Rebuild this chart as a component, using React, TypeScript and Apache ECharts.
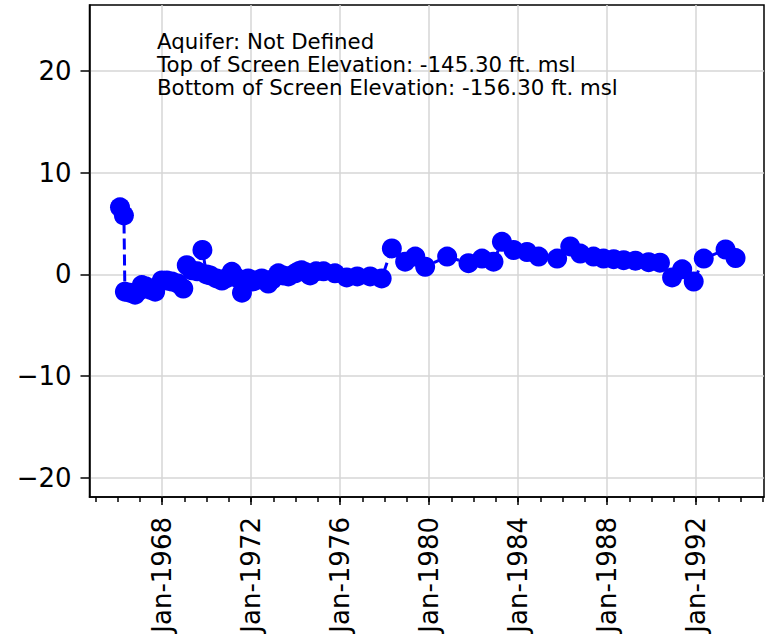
import React, { useEffect, useRef } from "react";
import * as echarts from "echarts";

// Observation dates and water-level values (ft)
const dates: string[] = [
  "1966-02-10", "1966-04-15", "1966-05-01", "1966-07-20", "1966-10-15", "1966-12-20",
  "1967-02-03", "1967-04-15", "1967-06-18", "1967-09-10", "1967-12-28", "1968-03-20",
  "1968-06-10", "1968-09-20", "1968-12-15", "1969-02-10", "1969-05-05", "1969-08-01",
  "1969-10-25", "1970-01-01", "1970-03-01", "1970-06-15", "1970-09-10", "1970-11-15",
  "1971-02-20", "1971-05-01", "1971-08-05", "1971-11-15", "1972-01-20", "1972-03-05",
  "1972-06-25", "1972-08-20", "1972-10-10", "1972-12-15", "1973-03-25", "1973-06-10",
  "1973-09-05", "1973-12-25", "1974-02-20", "1974-04-10", "1974-06-20", "1974-08-28",
  "1974-12-05", "1975-04-05", "1975-10-10", "1976-04-20", "1976-10-10", "1977-05-10",
  "1977-11-15", "1978-05-01", "1978-12-05", "1979-05-20", "1979-10-30", "1980-10-25",
  "1981-10-10", "1982-05-20", "1982-11-25", "1983-04-12", "1983-10-20", "1984-05-28",
  "1984-12-05", "1985-10-05", "1986-05-08", "1986-10-20", "1987-05-25", "1987-11-05",
  "1988-04-20", "1988-10-01", "1989-04-12", "1989-11-15", "1990-05-20", "1990-12-05",
  "1991-05-20", "1991-11-25", "1992-05-08", "1993-05-01", "1993-10-12",
];
const levels: number[] = [
  6.6, 5.8, -1.7, -1.8, -2.0, -1.6,
  -1.05, -1.2, -1.5, -1.7, -0.6, -0.6,
  -0.7, -0.9, -1.4, 0.9, 0.4, 0.3,
  2.4, 0.0, -0.1, -0.4, -0.6, -0.4,
  0.25, -0.3, -1.8, -0.4, -0.7, -0.6,
  -0.4, -0.6, -0.9, -0.5, 0.1, -0.1,
  -0.2, 0.1, 0.3, 0.4, 0.2, -0.1,
  0.3, 0.3, 0.1, -0.3, -0.2, -0.2,
  -0.4, 2.55, 1.25, 1.75, 0.75, 1.75,
  1.1, 1.55, 1.25, 3.2, 2.4, 2.2,
  1.75, 1.55, 2.75, 2.05, 1.75, 1.55,
  1.5, 1.4, 1.35, 1.2, 1.15, -0.3,
  0.5, -0.7, 1.55, 2.45, 1.6,
];
const majorYears: number[] = [1968, 1972, 1976, 1980, 1984, 1988, 1992];
const minorYears: number[] = [
  1965, 1966, 1967, 1968, 1969, 1970, 1971, 1972, 1973, 1974, 1975, 1976, 1977, 1978,
  1979, 1980, 1981, 1982, 1983, 1984, 1985, 1986, 1987, 1988, 1989, 1990, 1991, 1992,
  1993, 1994, 1995,
];
const yTicks: number[] = [-20, -10, 0, 10, 20];
const annotationLines: string[] = [
  "Aquifer: Not Defined",
  "Top of Screen Elevation: -145.30 ft. msl",
  "Bottom of Screen Elevation: -156.30 ft. msl",
];
const xMinDate = "1964-09-27";
const xMaxDate = "1995-01-22";
const yMin = -21.9;
const yMax = 26.5;

const FONT = "DejaVu Sans";

export default function App() {
  const ref = useRef<HTMLDivElement>(null);
  useEffect(() => {
    if (!ref.current) return;
    const chart = echarts.init(ref.current, null, { renderer: "svg" });
    const ts = (s: string) => {
      const [y, m, d] = s.split("-").map(Number);
      return Date.UTC(y, m - 1, d);
    };
    const jan = (y: number) => Date.UTC(y, 0, 1);
    const xMin = ts(xMinDate);
    const xMax = ts(xMaxDate);
    const data = dates.map((d, i) => [ts(d), levels[i]]);
    const tickStyle = { color: "#000", width: 1.5 };
    chart.setOption({
      animation: false,
      backgroundColor: "#fff",
      grid: {
        left: 89.5,
        right: 2,
        top: 5,
        bottom: 142,
        show: true,
        borderColor: "#000",
        borderWidth: 1.5,
        containLabel: false,
        outerBoundsMode: "none",
      },
      xAxis: [
        {
          type: "value",
          min: xMin,
          max: xMax,
          position: "bottom",
          axisLine: { show: true, onZero: false, lineStyle: { color: "#000", width: 1.5 } },
          axisTick: {
            show: true,
            length: 8,
            lineStyle: tickStyle,
            customValues: majorYears.map(jan),
          },
          axisLabel: {
            show: true,
            rotate: 90,
            margin: 20,
            color: "#000",
            fontFamily: FONT,
            fontSize: 26,
            customValues: majorYears.map(jan),
            formatter: (v: number) => "Jan-" + new Date(v).getUTCFullYear(),
          },
          splitLine: { show: true, lineStyle: { color: "#d6d6d6", width: 1.5 } },
        },
        {
          type: "value",
          min: xMin,
          max: xMax,
          position: "bottom",
          gridIndex: 0,
          axisLine: { show: false, onZero: false },
          axisTick: {
            show: true,
            length: 5,
            lineStyle: tickStyle,
            customValues: minorYears.map(jan),
          },
          axisLabel: { show: false },
          splitLine: { show: false },
        },
      ],
      yAxis: {
        type: "value",
        min: yMin,
        max: yMax,
        axisLine: { show: true, onZero: false, lineStyle: { color: "#000", width: 1.5 } },
        axisTick: { show: true, length: 9, lineStyle: tickStyle, customValues: yTicks },
        axisLabel: {
          show: true,
          margin: 18,
          color: "#000",
          fontFamily: FONT,
          fontSize: 26,
          customValues: yTicks,
          formatter: (v: number) => (v < 0 ? "\u2212" + Math.abs(v) : String(v)),
        },
        splitLine: { show: true, lineStyle: { color: "#d6d6d6", width: 1.5 } },
      },
      graphic: [
        {
          type: "text",
          left: 157,
          top: 30,
          z: 10,
          style: {
            text: annotationLines.join("\n"),
            fill: "#000",
            font: `21.3px "${FONT}"`,
            lineHeight: 23,
          },
        },
      ],
      series: [
        {
          type: "line",
          xAxisIndex: 0,
          data,
          symbol: "circle",
          symbolSize: 20,
          showSymbol: true,
          showAllSymbol: true,
          itemStyle: { color: "#0000ff" },
          lineStyle: { color: "#0000ff", width: 3, type: [11, 5] },
          emphasis: { disabled: true },
        },
      ],
    });
    return () => chart.dispose();
  }, []);
  return (
    <div
      ref={ref}
      style={{ position: "absolute", left: 0, top: 0, width: 766, height: 639 }}
    />
  );
}
